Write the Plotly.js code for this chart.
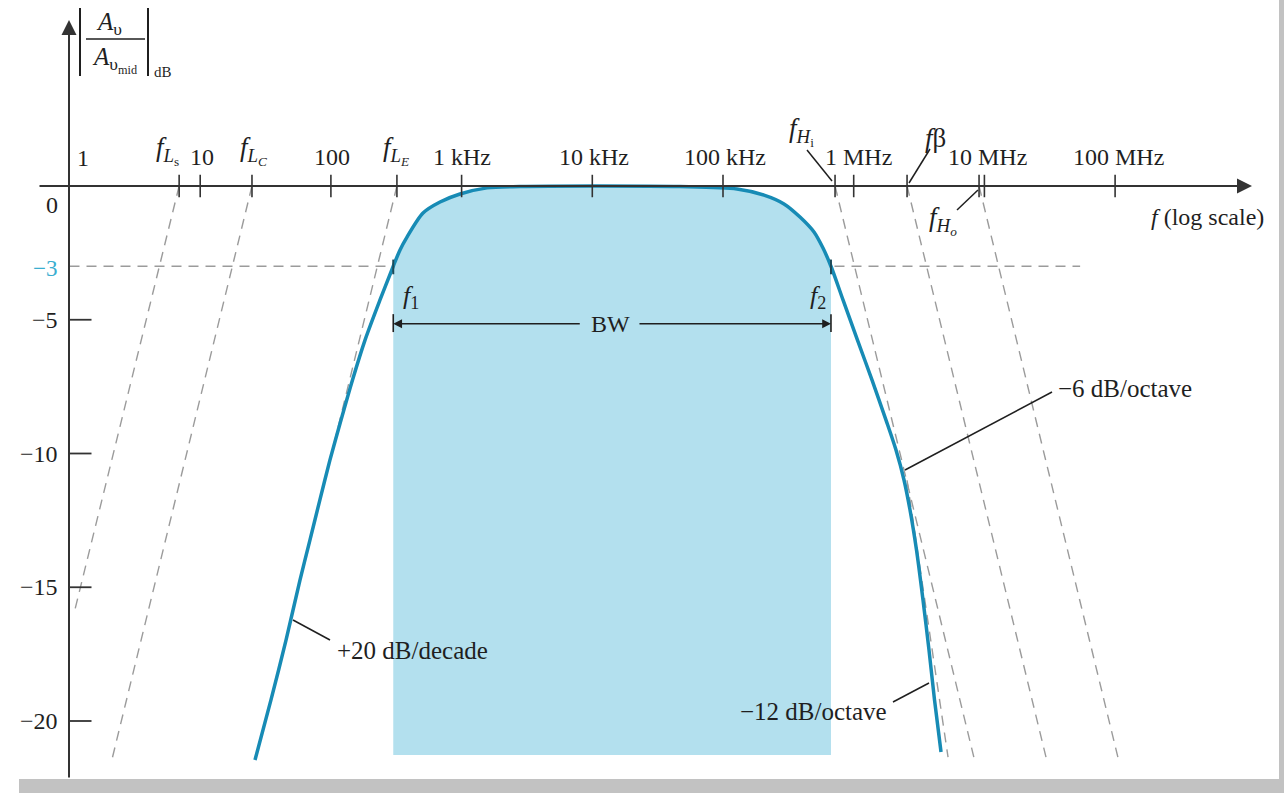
<!DOCTYPE html>
<html>
<head>
<meta charset="utf-8">
<script src="https://cdn.plot.ly/plotly-3.0.1.min.js"></script>
<style>html,body{margin:0;padding:0;background:#fff;overflow:hidden}</style>
</head>
<body>
<div id="chart" style="width:1284px;height:793px"></div>
<script>
// ---------------- data ----------------
const decadeFreqs  = [10, 100, 1e3, 1e4, 1e5, 1e6, 1e7, 1e8];
const decadeLabels = ['10', '100', '1 kHz', '10 kHz', '100 kHz', '1 MHz', '10 MHz', '100 MHz'];
const dbTickVals   = [-5, -10, -15, -20];
const dbTickLabels = ['\u22125', '\u221210', '\u221215', '\u221220'];
const cornerLabels = ['<i>f</i><sub><i>L</i><sub>s</sub></sub>', '<i>f</i><sub><i>L</i><sub><i>C</i></sub></sub>',
                      '<i>f</i><sub><i>L</i><sub><i>E</i></sub></sub>', '<i>f</i><sub><i>H</i><sub>i</sub></sub>',
                      '<i>f</i>\u03b2', '<i>f</i><sub><i>H</i><sub><i>o</i></sub></sub>'];
const cornerFreqs  = [6.9, 24.9, 320, 7.2e5, 2.56e6, 9.1e6];
// each dashed asymptote runs from its corner (0 dB) to this end point
const asymEndFreqs = [1.08, 2.11, 83.4, 8.3e6, 2.96e7, 1.05e8];
const asymEndDb    = [-16.0, -21.45, -11.7, -21.35, -21.35, -21.35];
// -12 dB/octave asymptote (starts under f_beta on the f_Hi asymptote)
const asym12Freqs = [2.56e6, 5.27e6];
const asym12Db    = [-11.0, -21.35];
const f1 = 300, f2 = 6.7e5, cutoffDb = -3;
const cutoffGuideFreqs = [1, 5.4e7];
const bandBottomDb = -21.27;
const responseFreqs = [26.26, 34.8, 45.4, 58.0, 69.2, 82.3, 98.4, 119.5, 146.3, 182.4, 237.5, 300,
                       337.9, 382.1, 506.7, 683.7, 972.3, 1564, 2798, 10304, 46880, 128000, 205900,
                       292900, 388200, 496900, 582300, 670000, 828400, 1.069e6, 1.380e6, 1.767e6,
                       2.107e6, 2.426e6, 2.697e6, 3.024e6, 3.391e6, 3.769e6, 4.152e6, 4.656e6];
const responseDb    = [-21.46, -19.21, -16.97, -14.73, -13.23, -11.74, -10.24, -8.75, -7.25, -5.76, -4.26, -3.0,
                       -2.39, -1.91, -1.01, -0.60, -0.30, -0.07, -0.02, 0, -0.02, -0.11, -0.34,
                       -0.67, -1.16, -1.72, -2.32, -3.0, -4.26, -5.76, -7.25, -8.75,
                       -9.87, -10.99, -12.11, -13.61, -15.48, -17.35, -19.21, -21.16];

// ---------------- geometry of the figure ----------------
const W = 1284, H = 793;
const X0 = 69.5, DEC = 130.7, Y0 = 186, PXDB = 26.75;
const xr = [-X0 / DEC, (W - X0) / DEC];
const yr = [-(H - Y0) / PXDB, Y0 / PXDB];
const px = x => x / W, py = y => 1 - y / H;
const FONT = '"Liberation Serif", "Times New Roman", serif';
const INK = '#1f1f1f', AXIS = '#333333', DASH = '#9b9b9b', CURVE = '#178bb5', FILL = '#b3e0ee';
const FS = 24;

const traces = [];
const dashLine = {color: DASH, width: 1.4, dash: '10px,7px'};
cornerFreqs.forEach((f, i) => {
  traces.push({x: [f, asymEndFreqs[i]], y: [0, asymEndDb[i]], mode: 'lines', line: dashLine, hoverinfo: 'skip'});
});
traces.push({x: asym12Freqs, y: asym12Db, mode: 'lines', line: dashLine, hoverinfo: 'skip'});
traces.push({x: cutoffGuideFreqs, y: [cutoffDb, cutoffDb], mode: 'lines', line: dashLine, hoverinfo: 'skip'});
// bandwidth shading: base line, then the curve section between f1 and f2 filled down to it
traces.push({x: [f1, f2], y: [bandBottomDb, bandBottomDb], mode: 'lines', line: {width: 0}, hoverinfo: 'skip'});
const bx = [], by = [];
responseFreqs.forEach((f, i) => { if (f >= f1 && f <= f2) { bx.push(f); by.push(responseDb[i]); } });
traces.push({x: bx, y: by, mode: 'lines', fill: 'tonexty', fillcolor: FILL,
  line: {width: 0, shape: 'spline', smoothing: 0.8}, hoverinfo: 'skip'});
// response curve
traces.push({x: responseFreqs, y: responseDb, mode: 'lines',
  line: {color: CURVE, width: 3.5, shape: 'spline', smoothing: 0.8}, hoverinfo: 'skip'});
// x-axis ticks
const tx = [], ty = [];
decadeFreqs.concat(cornerFreqs).forEach(f => { tx.push(f, f, null); ty.push(0.42, -0.42, null); });
traces.push({x: tx, y: ty, mode: 'lines', line: {color: AXIS, width: 1.6}, hoverinfo: 'skip'});
// y-axis ticks
const yx = [], yy = [];
dbTickVals.forEach(v => { yx.push(1, Math.pow(10, 22 / DEC), null); yy.push(v, v, null); });
traces.push({x: yx, y: yy, mode: 'lines', line: {color: AXIS, width: 1.8}, hoverinfo: 'skip'});
// f1 / f2 marks and BW end bars
traces.push({x: [f1, f1, null, f2, f2], y: [-2.75, -3.3, null, -2.75, -3.3], mode: 'lines',
  line: {color: '#1d4a58', width: 2}, hoverinfo: 'skip'});
traces.push({x: [f1, f1, null, f2, f2], y: [-4.79, -5.46, null, -4.79, -5.46], mode: 'lines',
  line: {color: INK, width: 1.6}, hoverinfo: 'skip'});

const ann = [];
const txt = (x, y, text, o = {}) => Object.assign({xref: 'paper', yref: 'paper', x: px(x), y: py(y), text,
  showarrow: false, font: {family: FONT, size: FS, color: INK}, xanchor: 'center', yanchor: 'middle'}, o);

// decade tick labels
const labelShift = [2, 1, 0, 2, 2, 5, 3, 3];
decadeFreqs.forEach((f, i) => ann.push({xref: 'x', yref: 'paper', x: Math.log10(f), y: py(157), text: decadeLabels[i],
  xshift: labelShift[i], showarrow: false, font: {family: FONT, size: FS, color: INK}, xanchor: 'center', yanchor: 'middle'}));
ann.push(txt(83, 158, '1'));
// dB tick labels
dbTickVals.forEach((v, i) => ann.push({xref: 'paper', yref: 'y', x: px(60), y: v, text: dbTickLabels[i],
  showarrow: false, font: {family: FONT, size: FS, color: INK}, xanchor: 'right', yanchor: 'middle'}));
ann.push({xref: 'paper', yref: 'y', x: px(60), y: 0, yshift: -19, text: '0', showarrow: false,
  font: {family: FONT, size: FS, color: INK}, xanchor: 'right', yanchor: 'middle'});
ann.push({xref: 'paper', yref: 'y', x: px(59), y: cutoffDb, yshift: -2, text: '\u22123', showarrow: false,
  font: {family: FONT, size: FS - 1, color: '#3aaed0'}, xanchor: 'right', yanchor: 'middle'});
// corner labels
const cornerPos = [[168, 150], [253, 150], [396, 150], [801, 131], [935, 138], [943, 221]];
cornerLabels.forEach((t, i) => ann.push(txt(cornerPos[i][0], cornerPos[i][1], t, {font: {family: FONT, size: 27, color: INK}})));
// axis arrows
ann.push({xref: 'paper', yref: 'paper', x: px(69), y: py(20), ax: 0, ay: 759, axref: 'pixel', ayref: 'pixel', text: '',
  showarrow: true, arrowhead: 2, arrowsize: 1.5, arrowwidth: 2, arrowcolor: AXIS, standoff: 0});
ann.push({xref: 'paper', yref: 'paper', x: px(1252), y: py(186), ax: -1214, ay: 0, axref: 'pixel', ayref: 'pixel', text: '',
  showarrow: true, arrowhead: 2, arrowsize: 1.5, arrowwidth: 2, arrowcolor: AXIS, standoff: 0});
// BW arrows
ann.push({xref: 'x', yref: 'y', x: Math.log10(f1), y: -5.15, ax: 188, ay: 0, text: '', showarrow: true,
  arrowhead: 2, arrowsize: 1.1, arrowwidth: 1.6, arrowcolor: INK, standoff: 0});
ann.push({xref: 'x', yref: 'y', x: Math.log10(f2), y: -5.15, ax: -193, ay: 0, text: '', showarrow: true,
  arrowhead: 2, arrowsize: 1.1, arrowwidth: 1.6, arrowcolor: INK, standoff: 0});
ann.push(txt(610, 324, 'BW'));
ann.push(txt(411, 297, '<i>f</i><sub>1</sub>', {font: {family: FONT, size: 26, color: INK}}));
ann.push(txt(818, 297, '<i>f</i><sub>2</sub>', {font: {family: FONT, size: 26, color: INK}}));
// slope labels
ann.push(txt(335, 650, '+20 dB/decade', {xanchor: 'left', font: {family: FONT, size: 25, color: INK}}));
ann.push(txt(1056, 388, '\u22126 dB/octave', {xanchor: 'left', font: {family: FONT, size: 25, color: INK}}));
ann.push(txt(889, 711, '\u221212 dB/octave', {xanchor: 'right', font: {family: FONT, size: 25, color: INK}}));
ann.push(txt(1266, 217, '<i>f</i> (log scale)', {xanchor: 'right', font: {family: FONT, size: 24, color: INK}}));
// y title
ann.push(txt(109, 24, '<i>A</i><sub>\u03c5</sub>', {font: {family: FONT, size: 25, color: INK}}));
ann.push(txt(114, 60, '<i>A</i><sub>\u03c5<sub>mid</sub></sub>', {font: {family: FONT, size: 25, color: INK}}));
ann.push(txt(163, 72, 'dB', {font: {family: FONT, size: 15, color: INK}}));

const seg = (x0, y0, x1, y1, color = INK, width = 1.5) => ({type: 'line', xref: 'paper', yref: 'paper',
  x0: px(x0), y0: py(y0), x1: px(x1), y1: py(y1), line: {color, width}});
const shapes = [
  seg(80, 8, 80, 76, INK, 2), seg(148, 8, 148, 76, INK, 2), seg(86, 39, 145, 39, INK, 1.5),
  seg(807, 150, 832, 181), seg(930, 149, 909, 183), seg(978, 190, 957, 210),
  seg(293, 620, 330, 640), seg(905, 470, 1052, 392), seg(929, 683, 893, 702),
  {type: 'rect', xref: 'paper', yref: 'paper', x0: px(19), x1: 1, y0: 0, y1: py(779), fillcolor: '#c2c2c2', line: {width: 0}},
  {type: 'rect', xref: 'paper', yref: 'paper', x0: px(1279), x1: 1, y0: 0, y1: 1, fillcolor: '#c2c2c2', line: {width: 0}}
];

const layout = {
  width: W, height: H, margin: {l: 0, r: 0, t: 0, b: 0}, autosize: false,
  paper_bgcolor: '#ffffff', plot_bgcolor: '#ffffff', showlegend: false,
  xaxis: {type: 'log', range: xr, visible: false, fixedrange: true},
  yaxis: {range: yr, visible: false, fixedrange: true},
  annotations: ann, shapes: shapes
};
Plotly.newPlot('chart', traces, layout, {staticPlot: true});
</script>
</body>
</html>
